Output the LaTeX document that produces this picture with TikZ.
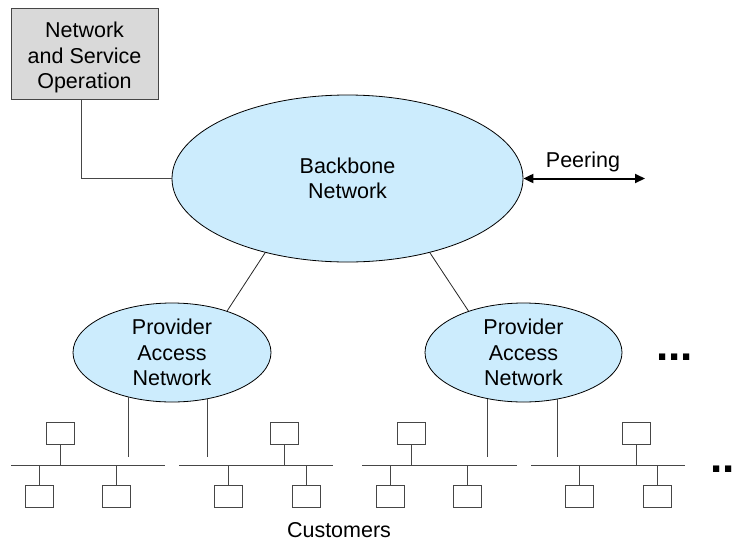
\documentclass[tikz,border=0pt]{standalone}
\usepackage{fontspec}
\setmainfont{Liberation Sans}
\usetikzlibrary{shapes.geometric,arrows.meta}
\definecolor{cloudblue}{RGB}{204,236,253}
\definecolor{opsgray}{RGB}{217,217,217}
\definecolor{wiregray}{RGB}{70,70,70}
\tikzset{
  txt/.style={font=\fontsize{21.5}{25.5}\selectfont, align=center},
  cloud/.style={ellipse, draw=black, line width=0.8pt, fill=cloudblue, inner sep=0pt, txt},
  opsbox/.style={rectangle, draw=wiregray, line width=1pt, fill=opsgray, inner sep=0pt,
    minimum width=147pt, minimum height=91pt},
  hostbox/.style={rectangle, draw=wiregray, line width=1pt, fill=white, inner sep=0pt,
    minimum width=28pt, minimum height=22pt},
  wire/.style={draw=wiregray, line width=1pt},
  link/.style={draw=black!85, line width=0.8pt},
  dots/.style={font=\bfseries\fontsize{44}{44}\selectfont, inner sep=0pt, anchor=base west}
}
\begin{document}
\begin{tikzpicture}[x=1pt, y=-1pt]
  \useasboundingbox (0,0) rectangle (736,544);

  % operations centre and the backbone
  \node[opsbox] (nso) at (84.5,53.5) {};
  \node[txt] (nsotext) at (84.5,57.5) {Network\\and Service\\Operation};
  \node[cloud, minimum width=351pt, minimum height=167pt] (bb) at (347.5,178.5) {Backbone\\Network};
  \draw[wire] (nso.south -| 81,0) |- (bb.west);

  % peering
  \coordinate (peer) at (645,178.5);
  \draw[line width=2pt, {Triangle[length=10pt,width=9pt]}-{Triangle[length=10pt,width=9pt]}] (bb.east) -- (peer);
  \node[txt] (peerlbl) at (583,162) {Peering};

  % provider access networks
  \node[cloud, minimum width=198pt, minimum height=99pt] (pl) at (172,352.5) {Provider\\Access\\Network};
  \node[cloud, minimum width=197pt, minimum height=99pt] (pr) at (523.5,352.5) {Provider\\Access\\Network};
  \draw[link] (bb.222) -- (pl.37);
  \draw[link] (bb.318) -- (pr.143);

  \node[dots] (moreprov) at (656,360) {...};
  \node[dots] (morelan) at (710,472) {...};

  % customer LANs: bus start, top host, two lower hosts, bus end
  \foreach \n/\a/\t/\l/\r/\b in {1/11/60/39/116/165, 2/179/284/228/306/333,
                                  3/362/411/390/467/517, 4/531/636/579/657/685} {
    \coordinate (lan\n a) at (\a,465);
    \coordinate (lan\n b) at (\b,465);
    \draw[wire] (lan\n a) -- (lan\n b);
    \node[hostbox] (h\n t) at (\t,433) {};
    \node[hostbox] (h\n l) at (\l,496.5) {};
    \node[hostbox] (h\n r) at (\r,496.5) {};
    \draw[wire] (h\n t.south) -- (h\n t.south |- lan\n a);
    \draw[wire] (h\n l.north) -- (h\n l.north |- lan\n a);
    \draw[wire] (h\n r.north) -- (h\n r.north |- lan\n a);
  }

  % access links from the providers down to the LANs
  \coordinate (drop) at (0,457);
  \draw[wire] (pl.226.8) -- (pl.226.8 |- drop);
  \draw[wire] (pl.307.1) -- (pl.307.1 |- drop);
  \draw[wire] (pr.232.5) -- (pr.232.5 |- drop);
  \draw[wire] (pr.306.6) -- (pr.306.6 |- drop);

  \node[txt] (cust) at (339,530) {Customers};
\end{tikzpicture}
\end{document}
